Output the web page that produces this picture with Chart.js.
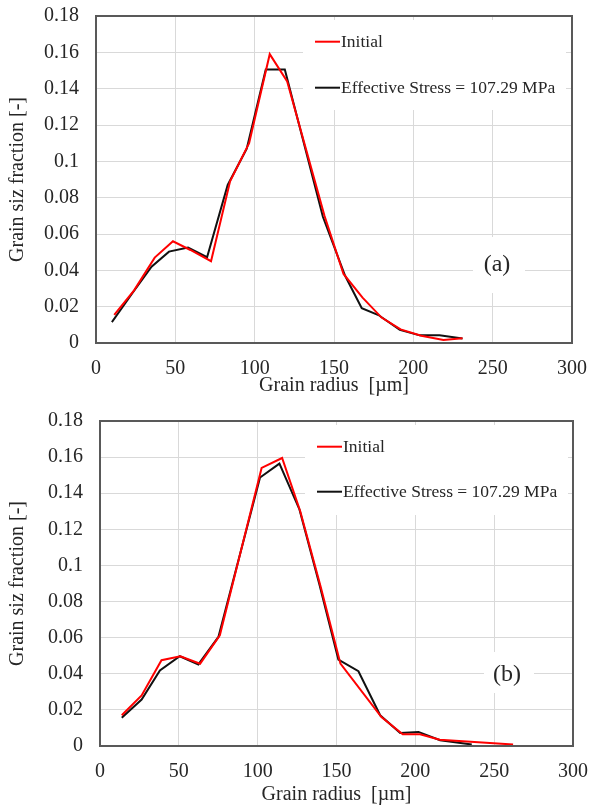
<!DOCTYPE html>
<html>
<head>
<meta charset="utf-8">
<script src="https://cdn.jsdelivr.net/npm/chart.js@4.4.0/dist/chart.umd.min.js"></script>
<style>
  body { margin: 0; background: #fff; }
  canvas { display: block; }
</style>
</head>
<body>
<canvas id="chartA" width="589" height="400"></canvas>
<canvas id="chartB" width="589" height="405"></canvas>
<script>
// axis ticks
const xTicks = [0, 50, 100, 150, 200, 250, 300];
const yTicks = [0, 0.02, 0.04, 0.06, 0.08, 0.1, 0.12, 0.14, 0.16, 0.18];
const yTickLabels = ['0', '0.02', '0.04', '0.06', '0.08', '0.1', '0.12', '0.14', '0.16', '0.18'];
const seriesNames = ['Initial', 'Effective Stress = 107.29 MPa'];
const xTitle = 'Grain radius  [\u00b5m]';
const yTitle = 'Grain siz fraction [-]';

// panel (a)
const aInitX = [11.5, 24, 37, 48.5, 59.5, 72.5, 84.5, 96.5, 109.5, 120.5, 144, 156, 168, 180, 192, 205, 219, 231];
const aInitY = [0.0155, 0.029, 0.047, 0.056, 0.0512, 0.045, 0.089, 0.110, 0.159, 0.144, 0.070, 0.038, 0.025, 0.014, 0.0075, 0.004, 0.0017, 0.0026];
const aEffX = [10, 23, 35, 46, 58, 70, 83, 95, 107, 119, 143, 157, 167.5, 178, 191.5, 204, 216.5, 231];
const aEffY = [0.0115, 0.0275, 0.042, 0.0503, 0.0525, 0.0472, 0.087, 0.107, 0.1505, 0.1505, 0.0695, 0.037, 0.0191, 0.0154, 0.0072, 0.0042, 0.0042, 0.0025];

// panel (b)
const bInitX = [13.8, 26.4, 39, 51, 63.5, 76, 102.5, 115.5, 127, 140, 152.5, 178.5, 192, 203, 215.5, 262];
const bInitY = [0.017, 0.028, 0.0475, 0.0497, 0.0456, 0.0613, 0.154, 0.1595, 0.130, 0.088, 0.0456, 0.016, 0.0065, 0.0065, 0.0035, 0.0008];
const bEffX = [13.8, 26.4, 38, 50.6, 62.4, 75.1, 101.5, 113.8, 126.5, 139, 151.2, 163.9, 177.7, 190.4, 202, 215.7, 235.8];
const bEffY = [0.0157, 0.0257, 0.0419, 0.0497, 0.0452, 0.0604, 0.1487, 0.1564, 0.131, 0.090, 0.0479, 0.0414, 0.017, 0.0072, 0.0078, 0.0032, 0.0008];

Chart.defaults.font.family = "'Liberation Serif', 'Times New Roman', serif";
Chart.defaults.color = '#262626';

function toPoints(xs, ys) {
  return xs.map((x, i) => ({ x: x, y: ys[i] }));
}

// white boxes behind legend and panel tag, frame, legend, tag
function panelDecor(cfg) {
  return {
    id: 'panelDecor',
    beforeDatasetsDraw(chart) {
      const ctx = chart.ctx;
      const a = chart.chartArea;
      ctx.save();
      ctx.fillStyle = '#fff';
      ctx.fillRect(a.left + cfg.legendBox[0], a.top + cfg.legendBox[1], cfg.legendBox[2], cfg.legendBox[3]);
      ctx.fillRect(a.left + cfg.tagBox[0], a.top + cfg.tagBox[1], cfg.tagBox[2], cfg.tagBox[3]);
      ctx.restore();
    },
    afterDraw(chart) {
      const ctx = chart.ctx;
      const a = chart.chartArea;
      ctx.save();
      ctx.strokeStyle = '#595959';
      ctx.lineWidth = 2;
      ctx.strokeRect(a.left, a.top, a.right - a.left, a.bottom - a.top);

      const colors = ['#ff0000', '#111111'];
      ctx.font = "17.5px 'Liberation Serif'";
      ctx.textBaseline = 'middle';
      ctx.textAlign = 'left';
      seriesNames.forEach((name, i) => {
        const y = a.top + cfg.legendRows[i];
        ctx.strokeStyle = colors[i];
        ctx.lineWidth = 2;
        ctx.beginPath();
        ctx.moveTo(a.left + cfg.legendX, y);
        ctx.lineTo(a.left + cfg.legendX + 25, y);
        ctx.stroke();
        ctx.fillStyle = '#262626';
        ctx.fillText(name, a.left + cfg.legendX + 26, y + 1);
      });

      ctx.font = "24px 'Liberation Serif'";
      ctx.textAlign = 'center';
      ctx.fillText(cfg.tag, a.left + cfg.tagPos[0], a.top + cfg.tagPos[1]);
      ctx.restore();
    }
  };
}

function createPanel(canvasId, initPts, effPts, cfg) {
  const ctx = document.getElementById(canvasId).getContext('2d');
  return new Chart(ctx, {
    type: 'line',
    data: {
      datasets: [{
        label: seriesNames[0],
        data: initPts,
        borderColor: '#ff0000',
        borderWidth: 2,
        pointRadius: 0,
        tension: 0
      }, {
        label: seriesNames[1],
        data: effPts,
        borderColor: '#111111',
        borderWidth: 2,
        pointRadius: 0,
        tension: 0
      }]
    },
    options: {
      responsive: false,
      animation: false,
      layout: {
        padding: { left: 0, right: cfg.padRight, top: cfg.padTop, bottom: 0 }
      },
      plugins: {
        legend: { display: false },
        tooltip: { enabled: false }
      },
      scales: {
        x: {
          type: 'linear',
          min: 0,
          max: 300,
          afterBuildTicks: s => { s.ticks = xTicks.map(v => ({ value: v })); },
          afterFit: s => { s.height = cfg.xHeight; },
          // invisible tick marks give the label gap without padding the layout
          grid: { color: '#d9d9d9', drawTicks: true, tickLength: 14, tickColor: 'rgba(0,0,0,0)' },
          border: { display: false },
          ticks: { font: { size: 20 }, padding: 0, maxRotation: 0 },
          title: {
            display: true,
            text: xTitle,
            font: { size: 20, lineHeight: 1 },
            padding: { top: 0, bottom: cfg.xTitlePad }
          }
        },
        y: {
          min: 0,
          max: 0.18,
          afterBuildTicks: s => { s.ticks = yTicks.map(v => ({ value: v })); },
          afterFit: s => { s.width = cfg.yWidth; },
          grid: { color: '#d9d9d9', drawTicks: true, tickLength: 17, tickColor: 'rgba(0,0,0,0)' },
          border: { display: false },
          ticks: {
            font: { size: 20 },
            padding: 0,
            callback: (v, i) => yTickLabels[i]
          },
          title: {
            display: true,
            text: yTitle,
            font: { size: 20, lineHeight: 1 },
            padding: { top: 8, bottom: 0 }
          }
        }
      }
    },
    plugins: [panelDecor(cfg)]
  });
}

createPanel('chartA', toPoints(aInitX, aInitY), toPoints(aEffX, aEffY), {
  padRight: 17, padTop: 16, xHeight: 57, yWidth: 96, xTitlePad: 4,
  legendBox: [207, 4, 263, 90], legendX: 219, legendRows: [25.7, 71.7],
  tagBox: [377, 221, 52, 56], tag: '(a)', tagPos: [401, 249]
});

createPanel('chartB', toPoints(bInitX, bInitY), toPoints(bEffX, bEffY), {
  padRight: 16, padTop: 21, xHeight: 59, yWidth: 100, xTitlePad: 0,
  legendBox: [205, 4, 263, 90], legendX: 217, legendRows: [25.7, 70.7],
  tagBox: [384, 231, 50, 41], tag: '(b)', tagPos: [407, 254]
});
</script>
</body>
</html>
